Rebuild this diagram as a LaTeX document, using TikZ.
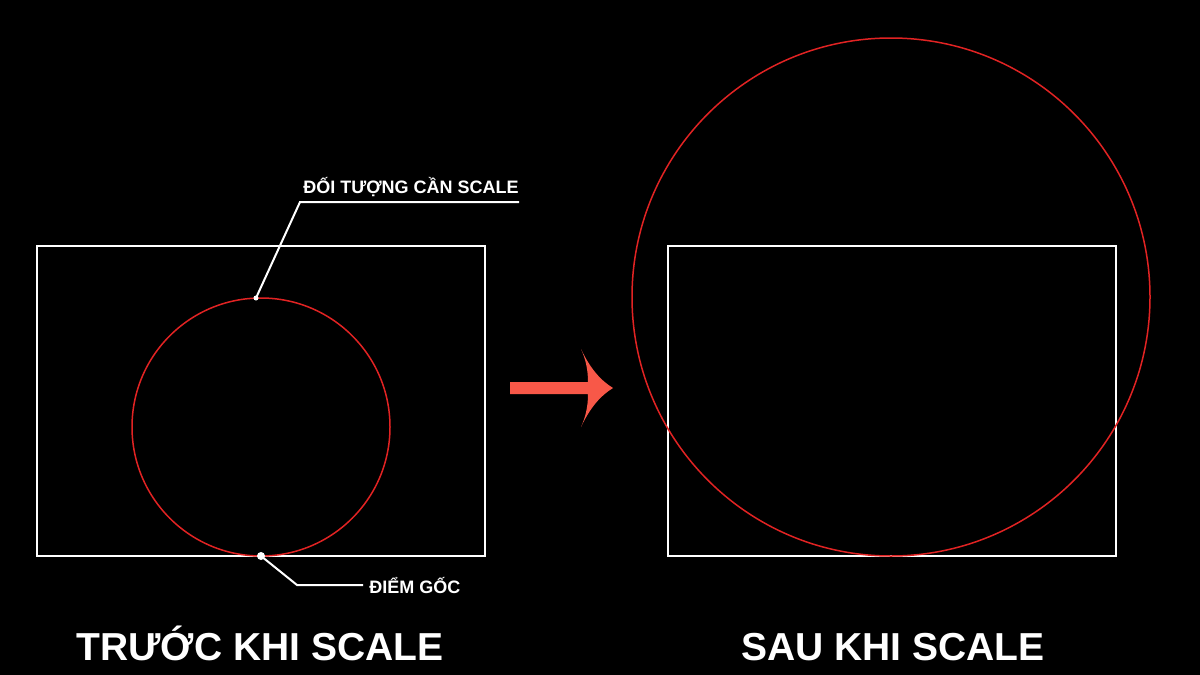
\documentclass[tikz,border=0pt]{standalone}
\usepackage{fontspec}
\setmainfont{Liberation Sans}
\usetikzlibrary{positioning}
\definecolor{cadred}{RGB}{225,35,35}
\definecolor{arrowred}{RGB}{248,88,72}
\begin{document}
\begin{tikzpicture}[x=0.5pt,y=-0.5pt,
            frame/.style = {draw=white,line width=1pt},
            obj/.style = {draw=cadred,line width=0.75pt},
            lead/.style = {draw=white,line width=1pt},
            tag/.style = {text=white,inner xsep=0pt,inner ysep=2pt,
                font=\bfseries\fontsize{9}{11}\selectfont},
            title/.style = {text=white,inner sep=0pt,
                font=\bfseries\fontsize{19.5}{23}\selectfont}]
            \fill[black] (0,0) rectangle (1200,675);
            \useasboundingbox (0,0) rectangle (1200,675);
            \draw[frame] (37,246) rectangle (485,556);
            \draw[obj] (261,427) circle[radius=129];
            \coordinate (p1) at (256,298);
            \coordinate (p2) at (261,556);
            \fill[white] (p1) circle[radius=2.5];
            \fill[white] (p2) circle[radius=4];
            \node[tag,anchor=base west] (tagobj) at (303,193) {ĐỐI TƯỢNG CẦN SCALE};
            \node[tag,anchor=base west] (tagbase) at (369,593) {ĐIỂM GỐC};
            \coordinate (k1) at (300,202);
            \coordinate (k2) at (297,585);
            \draw[lead] (p1) -- (k1) -- (k1 -| tagobj.east);
            \draw[lead] (p2) -- (k2) -- ([xshift=-3pt]k2 -| tagbase.west);
            \fill[arrowred] (510,382) -- (588,382) .. controls (588,368) and (585,358) .. (581,349)
                .. controls (590,368) and (600,380) .. (613,388)
                .. controls (600,396) and (590,408) .. (581,427)
                .. controls (585,418) and (588,408) .. (588,394) -- (510,394) -- cycle;
            \draw[frame] (668,246) rectangle (1116,556);
            \draw[obj] (891,297) circle[radius=259];
            \node[title,anchor=base] (t1) at (260,660) {TRƯỚC KHI SCALE};
            \node[title,anchor=base] (t2) at (893,660) {SAU KHI SCALE};
        \end{tikzpicture}
\end{document}
